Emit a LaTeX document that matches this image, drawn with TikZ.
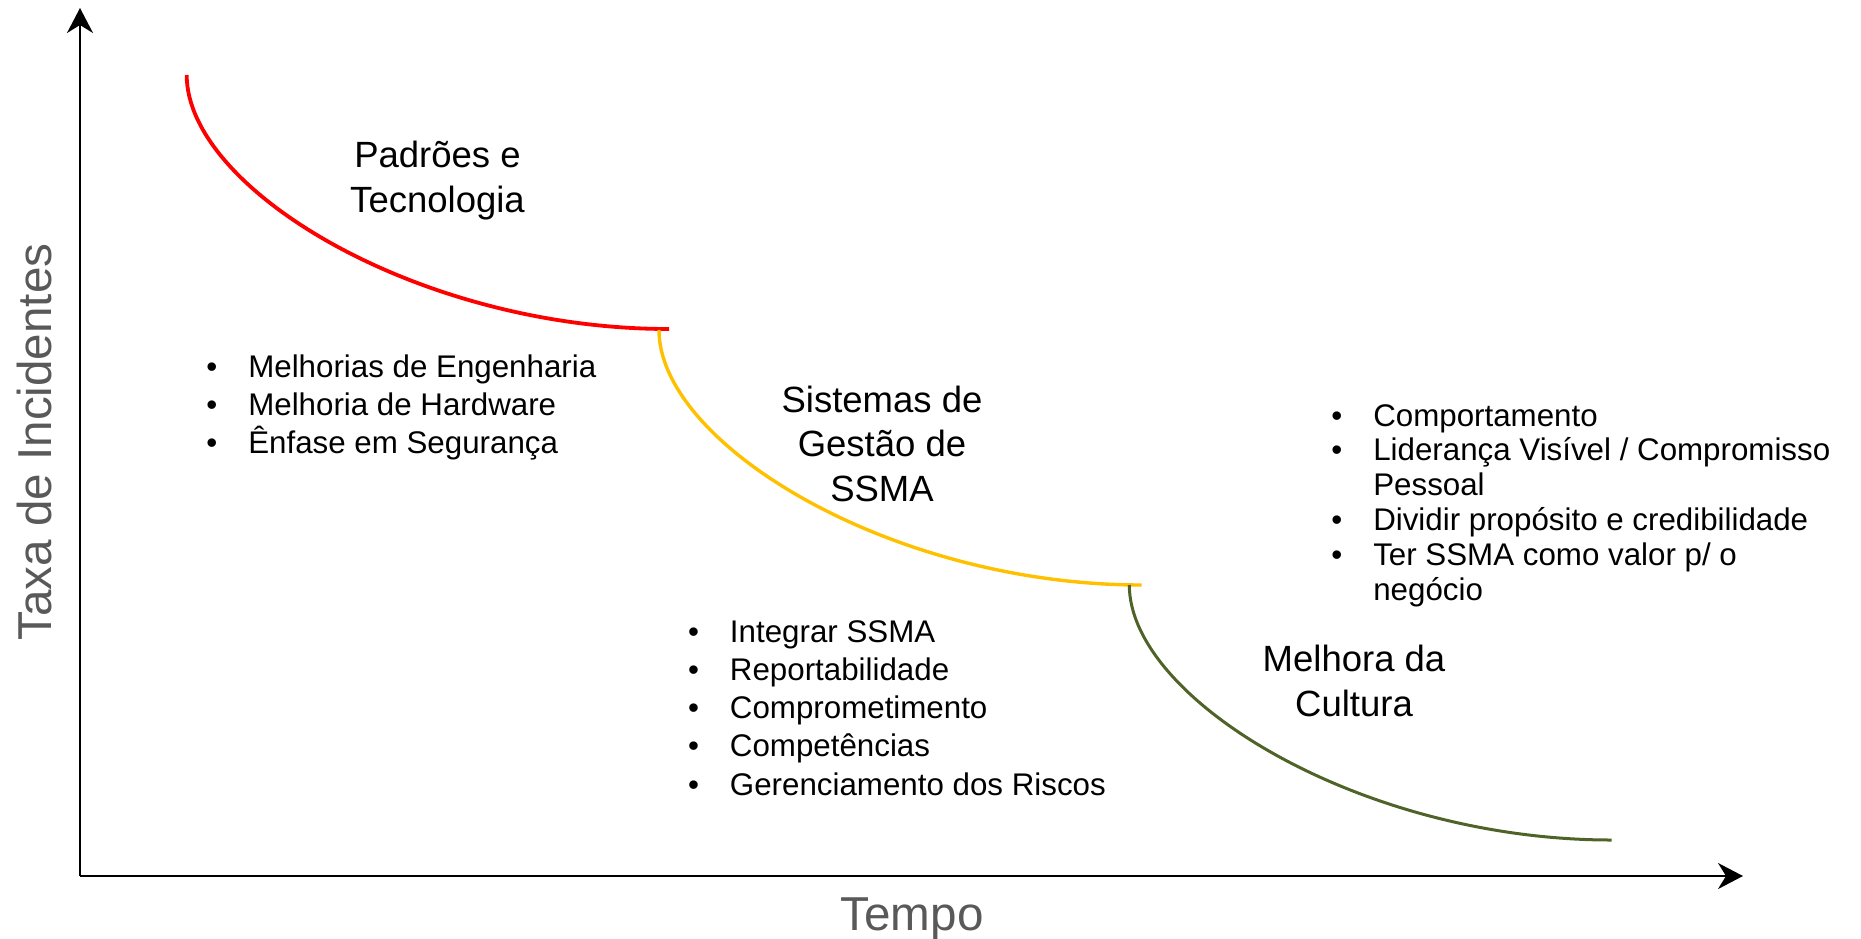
\documentclass[tikz,border=0pt]{standalone}
\usepackage{fontspec}
\setmainfont{Liberation Sans}
\usetikzlibrary{arrows.meta}
\definecolor{curvered}{HTML}{FF0000}
\definecolor{curvegold}{HTML}{FFC000}
\definecolor{curveolive}{HTML}{4F6228}
\definecolor{axisgray}{HTML}{595959}
\newcommand{\bul}{\makebox[21pt][l]{\textbullet}}
\newcommand{\nobul}{\makebox[21pt]{}}

\begin{document}
\begin{tikzpicture}[x=0.5pt, y=-0.5pt,
        every node/.style={inner sep=0pt, outer sep=0pt},
        axis/.style={line width=1pt, -{Stealth[length=12.5pt,width=13pt,inset=4pt]}},
        phase/.style={line width=1.7pt},
        title/.style={align=center, anchor=base, font=\fontsize{18.25}{22.4}\selectfont},
        bullets/.style={align=left, anchor=base west},
        axislabel/.style={anchor=base, text=axisgray, font=\fontsize{23.8}{28}\selectfont}]
    \useasboundingbox (0,0) rectangle (1861,938);

    % eixos
    \coordinate (O) at (80,876);
    \coordinate (ytip) at (80,8);
    \coordinate (xtip) at (1743,876);
    \draw[axis] (O) -- (ytip);
    \draw[axis] (O) -- (xtip);
    \node[axislabel] (tempo) at (912,930) {Tempo};
    \node[axislabel, rotate=90] (taxa) at (51,442) {Taxa de Incidentes};

    % curvas das fases
    \draw[phase, curvered, line width=1.9pt] (186.7,75) .. controls (186.7,189) and (418.4,329) .. (669,329);
    \draw[phase, curvegold] (659,330) .. controls (659,444) and (890.9,585) .. (1141.5,585);
    \draw[phase, curveolive, line width=1.5pt] (1129.3,585) .. controls (1129.3,699) and (1360.8,840) .. (1611.5,840);

    % titulos (ancorados na ultima linha)
    \node[title] (padroes) at (437.5,212) {Padrões e\\Tecnologia};
    \node[title] (sistemas) at (882,501.7) {Sistemas de\\Gestão de\\SSMA};
    \node[title] (cultura) at (1354,716) {Melhora da\\Cultura};

    % listas
    \node[bullets, font=\fontsize{15.65}{18.85}\selectfont] (lista1) at (206.3,453.3)
        {\bul Melhorias de Engenharia\\
         \bul Melhoria de Hardware\\
         \bul Ênfase em Segurança};
    \node[bullets, font=\fontsize{15.65}{19.15}\selectfont] (lista2) at (688,795.2)
        {\bul Integrar SSMA\\
         \bul Reportabilidade\\
         \bul Comprometimento\\
         \bul Competências\\
         \bul Gerenciamento dos Riscos};
    \node[bullets, font=\fontsize{15.65}{17.4}\selectfont] (lista3) at (1331.3,600)
        {\bul Comportamento\\
         \bul Liderança Visível / Compromisso\\
         \nobul Pessoal\\
         \bul Dividir propósito e credibilidade\\
         \bul Ter SSMA como valor p/ o\\
         \nobul negócio};
\end{tikzpicture}
\end{document}
